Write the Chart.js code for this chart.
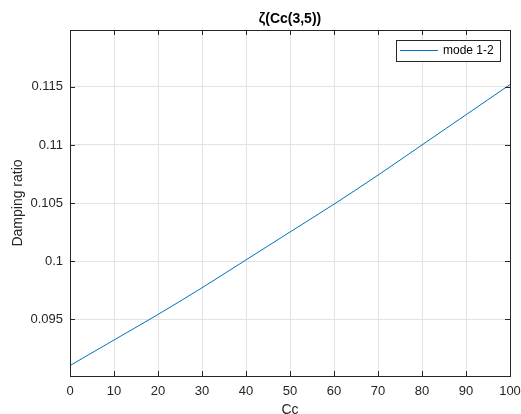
<!DOCTYPE html>
<html>
<head>
<meta charset="utf-8">
<script src="https://cdn.jsdelivr.net/npm/chart.js@4.4.0/dist/chart.umd.min.js"></script>
<style>
html,body{margin:0;padding:0;background:#fff;}
canvas{display:block;}
</style>
</head>
<body>
<canvas id="c" width="521" height="414"></canvas>
<script>
const chartTitle = "ζ(Cc(3,5))";
const xLabel = "Cc";
const yLabel = "Damping ratio";
const seriesName = "mode 1-2";
const ccValues = [0, 10, 20, 30, 40, 50, 60, 70, 80, 90, 100];
const dampingValues = [0.0910, 0.0932, 0.0954, 0.0977, 0.1001, 0.1025, 0.1049, 0.1074, 0.1100, 0.1126, 0.1152];
const xTicks = [0, 10, 20, 30, 40, 50, 60, 70, 80, 90, 100];
const yTicks = [0.095, 0.1, 0.105, 0.11, 0.115];
const xRange = [0, 100];
const yRange = [0.0901, 0.1199];

const FONT = "'Liberation Sans', Arial, Helvetica, sans-serif";
const AX = '#262626';

const framePlugin = {
  id: 'frame',
  afterDraw(chart) {
    const {ctx, chartArea: a, scales} = chart;
    ctx.save();
    ctx.strokeStyle = AX;
    ctx.lineWidth = 1;
    const tl = 5;
    ctx.beginPath();
    xTicks.forEach(v => {
      const x = Math.round(scales.x.getPixelForValue(v)) + 0.5;
      ctx.moveTo(x, a.bottom); ctx.lineTo(x, a.bottom - tl);
      ctx.moveTo(x, a.top); ctx.lineTo(x, a.top + tl);
    });
    yTicks.forEach(v => {
      const y = Math.round(scales.y.getPixelForValue(v)) + 0.5;
      ctx.moveTo(a.left, y); ctx.lineTo(a.left + tl, y);
      ctx.moveTo(a.right, y); ctx.lineTo(a.right - tl, y);
    });
    ctx.stroke();
    ctx.strokeRect(Math.round(a.left) + 0.5, Math.round(a.top) + 0.5, Math.round(a.right - a.left), Math.round(a.bottom - a.top));
    // title
    ctx.fillStyle = '#000';
    ctx.font = "bold 14px " + FONT;
    ctx.textAlign = 'center';
    ctx.textBaseline = 'middle';
    ctx.fillText(chartTitle, (a.left + a.right) / 2, 19);
    // legend
    const lx = 396, ly = 40, lw = 104, lh = 21;
    ctx.fillStyle = '#fff';
    ctx.fillRect(lx, ly, lw, lh);
    ctx.strokeStyle = AX;
    ctx.strokeRect(lx + 0.5, ly + 0.5, lw, lh);
    const ds = chart.data.datasets[0];
    ctx.strokeStyle = ds.borderColor;
    ctx.lineWidth = 1;
    ctx.beginPath();
    ctx.moveTo(400, ly + 10.5); ctx.lineTo(438, ly + 10.5);
    ctx.stroke();
    ctx.fillStyle = '#000';
    ctx.font = "12px " + FONT;
    ctx.textAlign = 'left';
    ctx.fillText(ds.label, 443, ly + 11);
    ctx.restore();
  }
};

new Chart(document.getElementById('c'), {
  type: 'line',
  data: {
    datasets: [{
      label: seriesName,
      data: ccValues.map((x, i) => ({x: x, y: dampingValues[i]})),
      borderColor: '#0072BD',
      borderWidth: 1,
      pointRadius: 0,
      cubicInterpolationMode: 'monotone',
      fill: false
    }]
  },
  options: {
    responsive: false,
    animation: false,
    events: [],
    layout: {padding: {top: 30, right: 11, left: 0, bottom: 0}},
    plugins: {legend: {display: false}, title: {display: false}, tooltip: {enabled: false}},
    scales: {
      x: {
        type: 'linear', min: xRange[0], max: xRange[1],
        afterBuildTicks: s => { s.ticks = xTicks.map(v => ({value: v})); },
        afterFit: s => { s.height = 38; s.paddingLeft = 0; s.paddingRight = 0; },
        grid: {color: '#e3e3e3', drawTicks: false},
        border: {display: false},
        ticks: {color: AX, font: {family: FONT, size: 13}, padding: 8, maxRotation: 0, autoSkip: false},
        title: {display: true, text: xLabel, color: AX, font: {family: FONT, size: 14, lineHeight: 1}, padding: {top: 0, bottom: -3}}
      },
      y: {
        type: 'linear', min: yRange[0], max: yRange[1],
        afterBuildTicks: s => { s.ticks = yTicks.map(v => ({value: v})); },
        afterFit: s => { s.width = 70; s.paddingTop = 0; s.paddingBottom = 0; },
        grid: {color: '#e3e3e3', drawTicks: false},
        border: {display: false},
        ticks: {color: AX, font: {family: FONT, size: 13}, padding: 7, autoSkip: false, callback: v => String(v)},
        title: {display: true, text: yLabel, color: AX, font: {family: FONT, size: 14, lineHeight: 1}, padding: {top: 11, bottom: 0}}
      }
    }
  },
  plugins: [framePlugin]
});
</script>
</body>
</html>
